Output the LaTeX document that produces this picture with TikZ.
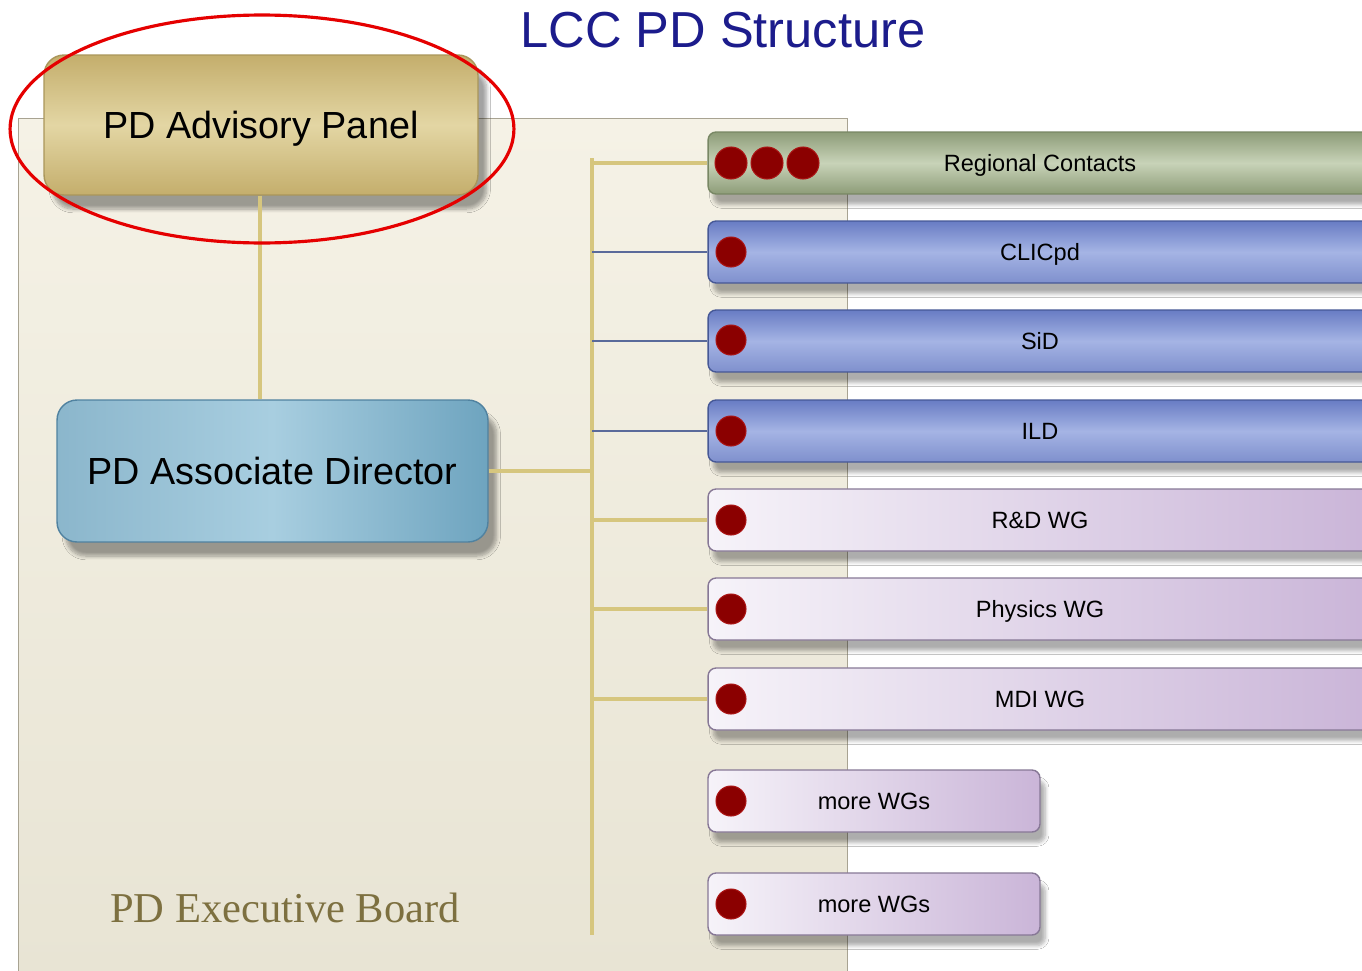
\documentclass[tikz,border=0pt]{standalone}
\usepackage{fontspec}
\setmainfont{Liberation Sans}
\newfontfamily\boardfont{Liberation Serif}
\usepackage{tikz}
\usetikzlibrary{shapes.geometric,shadows.blur}
\usepackage{xcolor}
\definecolor{titleblue}{RGB}{28,28,140}
\definecolor{boardtop}{RGB}{245,242,230}
\definecolor{boardbot}{RGB}{232,228,212}
\definecolor{boardedge}{RGB}{168,163,146}
\definecolor{boardtext}{RGB}{125,112,64}
\definecolor{advdark}{RGB}{196,174,108}
\definecolor{advlight}{RGB}{227,214,164}
\definecolor{advedge}{RGB}{170,150,90}
\definecolor{dirdark}{RGB}{110,164,191}
\definecolor{dirlight}{RGB}{168,206,224}
\definecolor{diredge}{RGB}{80,130,160}
\definecolor{regdark}{RGB}{141,156,120}
\definecolor{reglight}{RGB}{200,211,184}
\definecolor{regedge}{RGB}{120,135,100}
\definecolor{detdark}{RGB}{104,124,196}
\definecolor{detlight}{RGB}{165,180,228}
\definecolor{detedge}{RGB}{70,88,150}
\definecolor{wglight}{RGB}{246,243,249}
\definecolor{wgdark}{RGB}{202,181,216}
\definecolor{wgedge}{RGB}{135,120,150}
\definecolor{dotred}{RGB}{139,0,0}
\definecolor{dotedge}{RGB}{170,20,20}
\definecolor{linegold}{RGB}{214,198,126}
\definecolor{lineblue}{RGB}{90,106,154}

\begin{document}
\begin{tikzpicture}[x=0.02cm, y=-0.02cm,
    boardbox/.style={rectangle, draw=boardedge, line width=0.5pt, top color=boardtop, bottom color=boardbot, minimum width=16.6cm, minimum height=17.14cm, inner sep=0},
    bigbox/.style={rectangle, rounded corners=0.4cm, line width=0.8pt, text depth=0pt, font=\fontsize{21.5}{26}\selectfont, blur shadow={shadow blur steps=8, shadow xshift=5pt, shadow yshift=-8pt, shadow opacity=36}},
    advbox/.style={bigbox, draw=advedge, top color=advdark, bottom color=advdark, middle color=advlight, minimum width=8.68cm, minimum height=2.8cm},
    dirbox/.style={bigbox, draw=diredge, left color=dirdark!80!white, right color=dirdark, middle color=dirlight, minimum width=8.62cm, minimum height=2.84cm},
    bar/.style={rectangle, rounded corners=0.16cm, line width=0.8pt, minimum height=1.24cm, text depth=0pt, font=\fontsize{13.4}{16}\selectfont, blur shadow={shadow blur steps=6, shadow xshift=3pt, shadow yshift=-6pt, shadow opacity=32}},
    regionbar/.style={bar, draw=regedge, top color=regdark, bottom color=regdark, middle color=reglight, minimum width=13.28cm},
    detbar/.style={bar, draw=detedge, top color=detdark, bottom color=detdark!85!white, middle color=detlight, minimum width=13.28cm},
    wgbar/.style={bar, draw=wgedge, left color=wglight, right color=wgdark, minimum width=13.28cm},
    morebar/.style={wgbar, minimum width=6.64cm},
    dot/.style={circle, fill=dotred, draw=dotedge, line width=0.6pt, minimum size=0.6cm, inner sep=0},
    bigdot/.style={dot, minimum size=0.64cm},
    goldline/.style={draw=linegold, line width=2pt},
    blueline/.style={draw=lineblue, line width=0.6pt},
    highlight/.style={ellipse, draw=red!90!black, line width=1.8pt, minimum width=10.08cm, minimum height=4.56cm}
]
    \useasboundingbox (0,0) rectangle (1362,970);
    \clip (0,0) rectangle (1362,970);
    \fill[white] (0,0) rectangle (1362,970);

    % executive board background
    \node[boardbox] (board) at (433,546.5) {};
    \node[font=\boardfont\fontsize{24.2}{29}\selectfont, text=boardtext] (eblabel) at (285,908) {PD Executive Board};
    \node[font=\fontsize{28.8}{34}\selectfont, text=titleblue] (title) at (723,30) {LCC PD Structure};

    % bus
    \coordinate (bustop) at (592,158);
    \coordinate (busbot) at (592,935);

    \node[advbox] (adv) at (261,125) {PD Advisory Panel};
    \node[dirbox] (dir) at (272.5,471) {PD Associate Director};

    \node[regionbar] (rc) at (1040,163) {Regional Contacts};
    \node[detbar] (clic) at (1040,252) {CLICpd};
    \node[detbar] (sid) at (1040,341) {SiD};
    \node[detbar] (ild) at (1040,431) {ILD};
    \node[wgbar] (rd) at (1040,520) {R\&D WG};
    \node[wgbar] (phys) at (1040,609) {Physics WG};
    \node[wgbar] (mdi) at (1040,699) {MDI WG};
    \node[morebar] (more1) at (874,801) {more WGs};
    \node[morebar] (more2) at (874,904) {more WGs};

    \node[bigdot] (rc-d1) at (731,163) {};
    \node[bigdot] (rc-d2) at (767,163) {};
    \node[bigdot] (rc-d3) at (803,163) {};
    \node[dot] (clic-d) at (731,252) {};
    \node[dot] (sid-d) at (731,340) {};
    \node[dot] (ild-d) at (731,431) {};
    \node[dot] (rd-d) at (731,520) {};
    \node[dot] (phys-d) at (731,609) {};
    \node[dot] (mdi-d) at (731,699) {};
    \node[dot] (more1-d) at (731,801) {};
    \node[dot] (more2-d) at (731,904) {};

    \draw[goldline] (bustop) -- (busbot);
    \draw[goldline] (adv.south -| 260,0) -- (dir.north -| 260,0);
    \draw[goldline] (dir.east) -- (dir.east -| bustop);
    \draw[goldline] (rc.west) -- (rc.west -| bustop);
    \draw[blueline] (clic.west) -- (clic.west -| bustop);
    \draw[blueline] (sid.west) -- (sid.west -| bustop);
    \draw[blueline] (ild.west) -- (ild.west -| bustop);
    \draw[goldline] (rd.west) -- (rd.west -| bustop);
    \draw[goldline] (phys.west) -- (phys.west -| bustop);
    \draw[goldline] (mdi.west) -- (mdi.west -| bustop);

    \node[highlight] (hl) at (262,129) {};
\end{tikzpicture}
\end{document}
